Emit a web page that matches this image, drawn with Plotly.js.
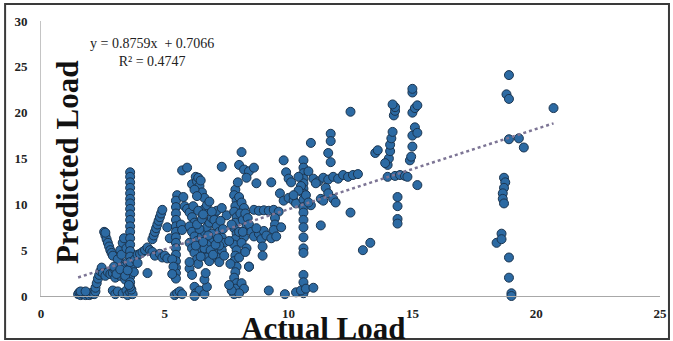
<!DOCTYPE html>
<html>
<head>
<meta charset="utf-8">
<script src="https://cdn.plot.ly/plotly-3.0.1.min.js"></script>
<style>html,body{margin:0;padding:0;background:#fff;}#chart{width:673px;height:341px;}</style>
</head>
<body>
<div id="chart"></div>
<script>
// Actual load (x) and predicted load (y)
const actualLoad = [
  1.5,1.55,1.6,1.65,1.7,1.75,1.8,1.85,1.9,1.95,2.0,2.05,2.1,2.15,2.2,1.6,1.8,
  2.2,2.25,2.3,2.35,2.4,2.45,2.5,2.6,2.7,2.8,2.9,3.0,
  2.55,2.6,2.65,2.7,2.75,2.8,2.85,2.9,2.6,
  3.0,3.1,3.15,3.2,3.25,3.3,3.35,3.4,3.45,3.5,3.55,3.6,3.7,3.75,3.1,3.2,3.3,3.35,3.25,3.45,
  2.95,3.05,3.2,3.4,3.5,
  2.9,3.0,3.1,3.3,3.45,3.5,3.6,3.7,3.65,
  3.6,3.6,3.6,3.6,3.6,3.6,3.6,3.6,3.6,3.6,3.6,3.6,3.6,3.6,3.6,3.6,3.6,3.6,3.6,3.55,
  3.8,3.9,4.0,4.1,4.2,4.3,4.4,4.5,4.6,4.8,4.9,5.0,5.1,4.3,3.9,
  4.5,4.55,4.6,4.65,4.7,4.75,4.8,4.85,4.9,5.1,5.2,
  5.5,5.45,5.45,5.45,5.45,5.45,5.45,5.45,5.45,5.45,5.45,5.45,5.45,5.45,5.45,
  5.3,5.35,5.3,5.4,5.5,5.6,5.7,5.7,5.75,5.8,5.65,5.7,
  5.9,6.1,6.25,6.3,6.35,6.4,6.5,6.6,6.2,6.3,6.45,
  5.9,6.0,6.1,6.2,6.0,6.1,6.2,6.3,6.4,6.5,6.6,6.7,6.8,
  6.0,6.1,6.2,6.3,6.35,6.5,6.6,6.7,6.8,6.9,7.0,7.1,6.6,6.7,6.9,7.0,7.1,7.2,7.3,7.4,7.0,6.9,7.0,7.1,7.2,7.3,7.4,6.8,6.9,7.2,6.7,6.6,6.4,6.3,6.5,6.8,7.3,7.5,7.3,
  6.15,6.35,6.55,6.75,6.85,6.95,7.05,7.15,6.45,6.25,6.55,7.25,7.35,
  6.0,6.1,6.2,6.25,6.4,6.6,6.7,6.6,6.65,6.2,6.0,
  7.85,7.8,7.9,7.85,7.8,7.9,7.85,7.8,7.9,7.85,7.8,7.9,7.85,7.8,7.9,7.85,7.8,7.9,7.85,7.8,
  8.0,8.1,8.2,8.05,8.15,8.3,8.0,8.2,8.1,8.3,8.0,8.4,8.1,8.2,8.0,7.7,7.6,7.65,7.6,7.7,
  8.25,8.35,8.15,8.25,
  8.1,8.0,8.2,8.4,8.6,8.3,8.7,7.95,
  8.6,8.8,9.0,9.2,9.4,9.6,9.45,9.45,9.4,
  8.4,8.5,8.6,8.8,8.9,9.0,9.1,9.3,9.5,9.7,8.7,
  8.95,8.95,8.4,9.3,9.8,9.9,10.0,10.1,9.2,9.85,
  9.65,9.8,10.0,10.2,10.3,
  10.6,10.6,10.6,10.6,10.6,10.6,10.6,10.6,10.6,10.6,10.6,10.6,10.6,10.6,10.6,10.6,10.6,10.6,
  10.4,10.8,10.5,10.7,10.9,10.9,10.3,10.5,10.7,11.0,10.8,11.0,10.4,10.2,
  11.7,11.7,11.6,11.7,11.2,11.4,11.6,11.8,12.0,12.2,12.4,12.6,12.8,11.5,11.6,11.8,11.9,11.3,11.4,11.3,12.5,12.5,11.1,13.0,13.3,
  13.5,13.6,14.0,14.05,14.1,14.1,14.15,14.2,14.25,14.3,14.3,14.2,13.9,14.0,14.3,14.5,14.7,14.8,14.4,14.4,14.4,14.4,14.9,14.95,15.0,15.0,15.1,15.2,15.0,15.1,15.2,15.0,15.0,15.2,
  18.9,18.8,18.9,20.7,18.9,19.3,19.5,18.7,18.75,18.7,18.65,18.65,18.7,18.6,18.4,18.6,18.9,18.9,19.0,19.0
];
const predictedLoad = [
  0.2,0.4,0.1,0.3,0.2,0.4,0.1,0.3,0.2,0.1,0.3,0.2,0.4,0.2,0.5,0.5,0.5,
  0.9,1.4,1.9,2.3,2.7,3.1,2.5,2.2,2.6,2.4,2.5,2.8,
  7.0,6.6,6.2,5.8,5.4,5.0,4.7,4.4,6.9,
  2.0,2.5,3.0,2.2,3.5,2.7,3.2,1.8,2.4,3.7,2.9,2.1,3.3,2.6,4.0,5.0,5.8,6.3,4.5,5.2,
  3.2,2.4,2.9,2.2,2.8,
  0.6,0.2,0.5,0.3,0.6,0.1,0.4,0.2,0.7,
  13.5,13.0,12.4,11.8,11.2,10.6,10.1,9.5,8.9,8.3,7.6,7.0,6.3,5.6,4.9,4.3,3.7,1.5,1.0,1.2,
  4.0,4.5,4.6,4.8,5.0,5.3,5.0,4.8,4.4,4.6,4.2,4.4,4.1,2.5,3.6,
  6.2,6.6,7.0,7.4,7.8,8.2,8.6,9.0,9.4,7.5,6.3,
  11.0,10.4,9.7,9.0,8.3,7.6,7.0,6.4,5.8,5.2,4.5,3.8,3.1,2.5,1.9,
  4.0,3.2,2.4,0.1,0.3,0.5,0.2,13.7,10.8,9.8,7.8,7.2,
  14.0,12.2,13.0,12.5,12.9,12.0,11.3,10.7,11.6,10.9,12.6,
  9.5,9.1,8.6,8.0,7.6,7.0,6.5,6.0,5.5,5.0,4.6,4.2,3.8,
  5.8,5.2,4.7,4.0,3.5,6.5,7.0,7.5,8.0,8.5,9.0,9.3,9.5,9.9,9.2,8.3,7.6,7.0,6.4,5.8,6.0,5.4,4.8,4.2,3.7,5.0,4.4,6.2,6.8,5.5,5.6,5.2,7.3,7.8,8.4,10.3,14.1,8.8,9.6,
  9.8,9.3,8.9,6.6,5.0,4.5,5.6,6.3,4.3,5.5,5.9,8.2,7.3,
  3.0,2.3,1.0,0.3,0.6,0.2,1.0,1.8,2.5,0.0,3.7,
  11.6,11.0,10.4,9.8,9.2,8.6,8.0,7.4,6.8,6.2,5.6,5.0,4.4,3.8,3.2,2.6,2.0,1.4,0.8,0.2,
  10.8,10.2,9.6,9.0,8.3,7.6,7.0,6.4,5.8,5.2,4.2,3.2,1.4,0.8,0.3,0.6,1.2,3.5,6.0,7.8,
  9.0,8.5,7.0,4.8,
  15.7,14.3,13.8,13.6,14.0,12.9,12.3,12.4,
  9.4,9.3,9.35,9.3,9.4,9.2,8.5,7.8,7.2,
  7.8,7.0,6.5,6.8,6.2,7.1,6.6,6.3,6.5,7.5,7.4,
  5.4,4.4,3.2,12.4,14.8,13.5,12.8,12.4,0.6,0.2,
  11.2,10.4,10.7,10.4,10.1,
  14.8,14.0,13.4,12.8,12.3,11.7,11.2,10.5,9.7,9.1,8.3,7.5,6.4,5.2,4.7,2.3,1.5,0.3,
  13.0,13.6,12.0,11.0,9.9,16.7,0.4,0.6,0.8,0.9,10.2,12.8,11.5,11.0,
  17.7,16.9,15.6,14.6,12.5,12.9,12.7,13.0,12.8,13.2,13.0,13.2,13.3,11.8,11.2,10.6,10.2,10.6,10.4,7.7,9.1,20.1,12.3,5.0,5.8,
  15.6,15.9,14.3,15.0,15.8,16.5,17.2,17.9,19.7,20.2,20.6,20.9,14.5,13.0,13.1,13.2,13.1,13.0,10.8,9.8,8.4,7.9,14.8,15.2,16.3,17.5,18.4,17.8,20.0,20.5,20.8,22.2,22.6,12.1,
  24.1,22.0,21.5,20.5,17.1,17.2,16.2,12.9,12.4,11.8,11.2,10.6,10.1,6.8,5.8,6.2,4.2,2.0,0.3,0.0
];
// Linear trendline printed on the chart
const trendSlope = 0.8759;
const trendIntercept = 0.7066;
const trendX = [1.5, 20.7];
const xTicks = [0, 5, 10, 15, 20, 25];
const yTicks = [0, 5, 10, 15, 20, 25, 30];

const trendY = trendX.map(v => trendSlope * v + trendIntercept);

const serif = '"Liberation Serif", "Times New Roman", serif';

const data = [
  {
    type: 'scatter', mode: 'markers', x: actualLoad, y: predictedLoad,
    cliponaxis: false,
    marker: {size: 9, color: '#2c6aa3', line: {color: '#1b3550', width: 1}},
    hoverinfo: 'x+y', showlegend: false
  },
  {
    type: 'scatter', mode: 'lines', x: trendX, y: trendY,
    line: {color: '#7d7595', width: 2.5, dash: 'dot'},
    hoverinfo: 'skip', showlegend: false
  }
];

const layout = {
  width: 673, height: 341,
  margin: {l: 41, r: 13, t: 21, b: 45},
  paper_bgcolor: '#ffffff', plot_bgcolor: '#ffffff',
  showlegend: false,
  xaxis: {
    range: [0, 25], tickvals: xTicks, ticktext: xTicks.map(String),
    showgrid: false, zeroline: false, showline: true, linecolor: '#a8a8a8', linewidth: 1,
    ticks: '', ticklabelstandoff: 5,
    tickfont: {family: serif, size: 13, color: '#222', weight: 'bold'}
  },
  yaxis: {
    range: [0, 30], tickvals: yTicks, ticktext: yTicks.map(String),
    showgrid: false, zeroline: false, showline: true, linecolor: '#c4c4c4', linewidth: 1,
    ticks: '', ticklabelstandoff: 10,
    tickfont: {family: serif, size: 13, color: '#222', weight: 'bold'}
  },
  annotations: [
    {text: 'Predicted Load', xref: 'paper', yref: 'paper', x: 0.042, y: 0.487,
     xanchor: 'center', yanchor: 'middle', textangle: -90, showarrow: false,
     font: {family: serif, size: 31, color: '#111', weight: 'bold'}},
    {text: 'Actual Load', xref: 'paper', yref: 'paper', x: 0.457, y: -0.118,
     xanchor: 'center', yanchor: 'middle', showarrow: false,
     font: {family: serif, size: 31, color: '#111', weight: 'bold'}},
    {text: 'y = 0.8759x  + 0.7066<br>R² = 0.4747', xref: 'paper', yref: 'paper', x: 0.179, y: 0.884,
     xanchor: 'center', yanchor: 'middle', align: 'center', showarrow: false,
     font: {family: serif, size: 14, color: '#222'}}
  ],
  shapes: [
    {type: 'rect', xref: 'paper', yref: 'paper', x0: -0.058, x1: 1.0145, y0: -0.156, y1: 1.0618,
     line: {color: '#3a3a3a', width: 2}, fillcolor: 'rgba(0,0,0,0)', layer: 'below'}
  ]
};

Plotly.newPlot('chart', data, layout, {displayModeBar: false, staticPlot: true});
</script>
</body>
</html>
